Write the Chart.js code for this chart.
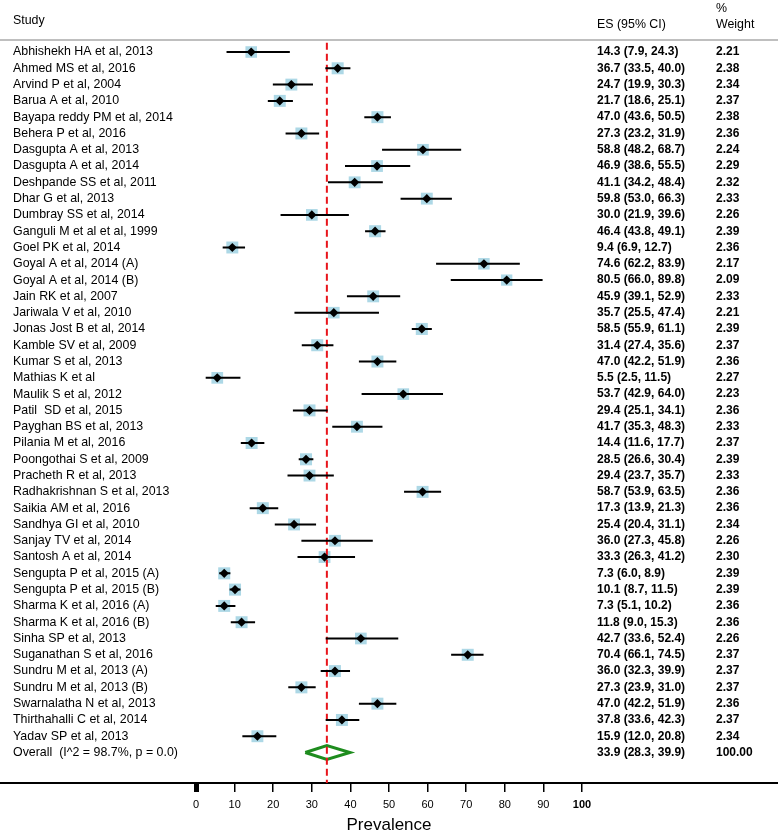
<!DOCTYPE html>
<html>
<head>
<meta charset="utf-8">
<script src="https://cdn.jsdelivr.net/npm/chart.js@4"></script>
<style>
  body { margin: 0; background: #fff; }
  canvas { display: block; }
</style>
</head>
<body>
<canvas id="forest" width="778" height="830"></canvas>
<script>
const studies = [
  'Abhishekh HA et al, 2013', 'Ahmed MS et al, 2016', 'Arvind P et al, 2004', 'Barua A et al, 2010',
  'Bayapa reddy PM et al, 2014', 'Behera P et al, 2016', 'Dasgupta A et al, 2013', 'Dasgupta A et al, 2014',
  'Deshpande SS et al, 2011', 'Dhar G et al, 2013', 'Dumbray SS et al, 2014', 'Ganguli M et al et al, 1999',
  'Goel PK et al, 2014', 'Goyal A et al, 2014 (A)', 'Goyal A et al, 2014 (B)', 'Jain RK et al, 2007',
  'Jariwala V et al, 2010', 'Jonas Jost B et al, 2014', 'Kamble SV et al, 2009', 'Kumar S et al, 2013',
  'Mathias K et al', 'Maulik S et al, 2012', 'Patil  SD et al, 2015', 'Payghan BS et al, 2013',
  'Pilania M et al, 2016', 'Poongothai S et al, 2009', 'Pracheth R et al, 2013', 'Radhakrishnan S et al, 2013',
  'Saikia AM et al, 2016', 'Sandhya GI et al, 2010', 'Sanjay TV et al, 2014', 'Santosh A et al, 2014',
  'Sengupta P et al, 2015 (A)', 'Sengupta P et al, 2015 (B)', 'Sharma K et al, 2016 (A)', 'Sharma K et al, 2016 (B)',
  'Sinha SP et al, 2013', 'Suganathan S et al, 2016', 'Sundru M et al, 2013 (A)', 'Sundru M et al, 2013 (B)',
  'Swarnalatha N et al, 2013', 'Thirthahalli C et al, 2014', 'Yadav SP et al, 2013'
];
const es = [14.3, 36.7, 24.7, 21.7, 47.0, 27.3, 58.8, 46.9, 41.1, 59.8, 30.0, 46.4, 9.4, 74.6, 80.5, 45.9,
  35.7, 58.5, 31.4, 47.0, 5.5, 53.7, 29.4, 41.7, 14.4, 28.5, 29.4, 58.7, 17.3, 25.4, 36.0, 33.3,
  7.3, 10.1, 7.3, 11.8, 42.7, 70.4, 36.0, 27.3, 47.0, 37.8, 15.9];
const ciLow = [7.9, 33.5, 19.9, 18.6, 43.6, 23.2, 48.2, 38.6, 34.2, 53.0, 21.9, 43.8, 6.9, 62.2, 66.0, 39.1,
  25.5, 55.9, 27.4, 42.2, 2.5, 42.9, 25.1, 35.3, 11.6, 26.6, 23.7, 53.9, 13.9, 20.4, 27.3, 26.3,
  6.0, 8.7, 5.1, 9.0, 33.6, 66.1, 32.3, 23.9, 42.2, 33.6, 12.0];
const ciHigh = [24.3, 40.0, 30.3, 25.1, 50.5, 31.9, 68.7, 55.5, 48.4, 66.3, 39.6, 49.1, 12.7, 83.9, 89.8, 52.9,
  47.4, 61.1, 35.6, 51.9, 11.5, 64.0, 34.1, 48.3, 17.7, 30.4, 35.7, 63.5, 21.3, 31.1, 45.8, 41.2,
  8.9, 11.5, 10.2, 15.3, 52.4, 74.5, 39.9, 31.0, 51.9, 42.3, 20.8];
const weights = [2.21, 2.38, 2.34, 2.37, 2.38, 2.36, 2.24, 2.29, 2.32, 2.33, 2.26, 2.39, 2.36, 2.17, 2.09, 2.33,
  2.21, 2.39, 2.37, 2.36, 2.27, 2.23, 2.36, 2.33, 2.37, 2.39, 2.33, 2.36, 2.36, 2.34, 2.26, 2.30,
  2.39, 2.39, 2.36, 2.36, 2.26, 2.37, 2.37, 2.37, 2.36, 2.37, 2.34];
const overallLabel = 'Overall  (I^2 = 98.7%, p = 0.0)';
const overallEs = 33.9;
const overallCi = [28.3, 39.9];
const overallWeight = 100.00;
const xTicks = [0, 10, 20, 30, 40, 50, 60, 70, 80, 90, 100];

const FONT = "'Liberation Sans', Arial, Helvetica, sans-serif";
const NARROW = "'Liberation Sans Narrow', 'Arial Narrow', 'Liberation Sans', sans-serif";

const rows = studies.map((s, i) => i + 1);
const overallRow = studies.length + 1;
const headerRow = 0.33;   // row position of the grey rule under the header

const fmt = (v, l, h) => v.toFixed(1) + ' (' + l.toFixed(1) + ', ' + h.toFixed(1) + ')';

// CI whiskers: one line dataset broken by gaps
let ciPoints = [];
rows.forEach((r, i) => {
  ciPoints.push({x: ciLow[i], y: r}, {x: ciHigh[i], y: r}, {x: ciHigh[i], y: null});
});

const dHalf = 0.43;
const overallDiamond = [
  {x: overallCi[0], y: overallRow}, {x: overallEs, y: overallRow - dHalf},
  {x: overallCi[1], y: overallRow}, {x: overallEs, y: overallRow + dHalf},
  {x: overallCi[0], y: overallRow}
];

const columnText = {
  id: 'columnText',
  afterDraw(chart) {
    const {ctx} = chart;
    const y = chart.scales.y;
    ctx.save();
    // header
    ctx.fillStyle = '#000';
    ctx.textBaseline = 'middle';
    ctx.font = '12.4px ' + FONT;
    ctx.fillText('Study', 13, 21);
    ctx.fillText('ES (95% CI)', 597, 25);
    ctx.fillText('%', 716, 9);
    ctx.fillText('Weight', 716, 25);
    ctx.strokeStyle = '#bfbfbf';
    ctx.lineWidth = 2;
    ctx.beginPath();
    ctx.moveTo(0, y.getPixelForValue(headerRow) - 1);
    ctx.lineTo(chart.width, y.getPixelForValue(headerRow) - 1);
    ctx.stroke();
    // rows
    studies.forEach((s, i) => {
      const py = y.getPixelForValue(rows[i]);
      ctx.font = '12.4px ' + FONT;
      ctx.fillText(s, 13, py);
      ctx.font = 'bold 12px ' + FONT;
      ctx.fillText(fmt(es[i], ciLow[i], ciHigh[i]), 597, py);
      ctx.fillText(weights[i].toFixed(2), 716, py);
    });
    const po = y.getPixelForValue(overallRow);
    ctx.font = '12.4px ' + FONT;
    ctx.fillText(overallLabel, 13, po);
    ctx.font = 'bold 12px ' + FONT;
    ctx.fillText(fmt(overallEs, overallCi[0], overallCi[1]), 597, po);
    ctx.fillText(overallWeight.toFixed(2), 716, po);
    ctx.restore();
  }
};

new Chart(document.getElementById('forest'), {
  type: 'scatter',
  data: {
    datasets: [
      {
        label: 'estimate',
        data: rows.map((r, i) => ({x: es[i], y: r})),
        pointStyle: 'rectRot',
        pointRadius: 4.6,
        backgroundColor: '#000',
        borderColor: '#000',
        borderWidth: 0,
        order: 0
      },
      {
        label: 'ci',
        data: ciPoints,
        showLine: true,
        spanGaps: false,
        pointRadius: 0,
        borderColor: '#000',
        borderWidth: 2,
        order: 1
      },
      {
        label: 'weight',
        data: rows.map((r, i) => ({x: es[i], y: r})),
        pointStyle: 'rect',
        pointRadius: ctx => 5.5 * Math.sqrt(weights[ctx.dataIndex]),
        backgroundColor: '#add8e6',
        borderWidth: 0,
        order: 3
      },
      {
        label: 'overall',
        data: overallDiamond,
        showLine: true,
        pointRadius: 0,
        borderColor: '#1e8c1e',
        borderWidth: 3,
        order: 4
      },
      {
        label: 'null',
        data: [{x: overallEs, y: headerRow + 0.1}, {x: overallEs, y: 60}],
        showLine: true,
        pointRadius: 0,
        borderColor: '#e8141b',
        borderWidth: 2,
        borderDash: [7, 4],
        order: 2
      }
    ]
  },
  options: {
    responsive: false,
    animation: false,
    layout: {padding: 0, autoPadding: false},
    plugins: {legend: {display: false}, tooltip: {enabled: false}},
    scales: {
      x: {
        type: 'linear',
        min: -50.8,
        max: 150.8,
        afterBuildTicks: scale => { scale.ticks = xTicks.map(v => ({value: v})); },
        border: {display: true, color: '#000', width: 2},
        grid: {
          drawOnChartArea: false,
          drawTicks: true,
          tickLength: 9,
          color: '#000',
          lineWidth: ctx => (ctx.tick && ctx.tick.value === 0 ? 5 : 1.5)
        },
        ticks: {
          color: '#000',
          padding: 7,
          maxRotation: 0,
          autoSkip: false,
          font: ctx => ({family: NARROW, size: 11, lineHeight: 1, weight: ctx.tick && ctx.tick.value === 100 ? 'bold' : 'normal'})
        },
        title: {
          display: true,
          text: 'Prevalence',
          color: '#000',
          font: {family: FONT, size: 17, lineHeight: 1},
          padding: {top: 0, bottom: -4}
        }
      },
      y: {
        type: 'linear',
        display: false,
        reverse: true,
        min: -2.192,
        max: 45.87
      }
    }
  },
  plugins: [columnText]
});
</script>
</body>
</html>
